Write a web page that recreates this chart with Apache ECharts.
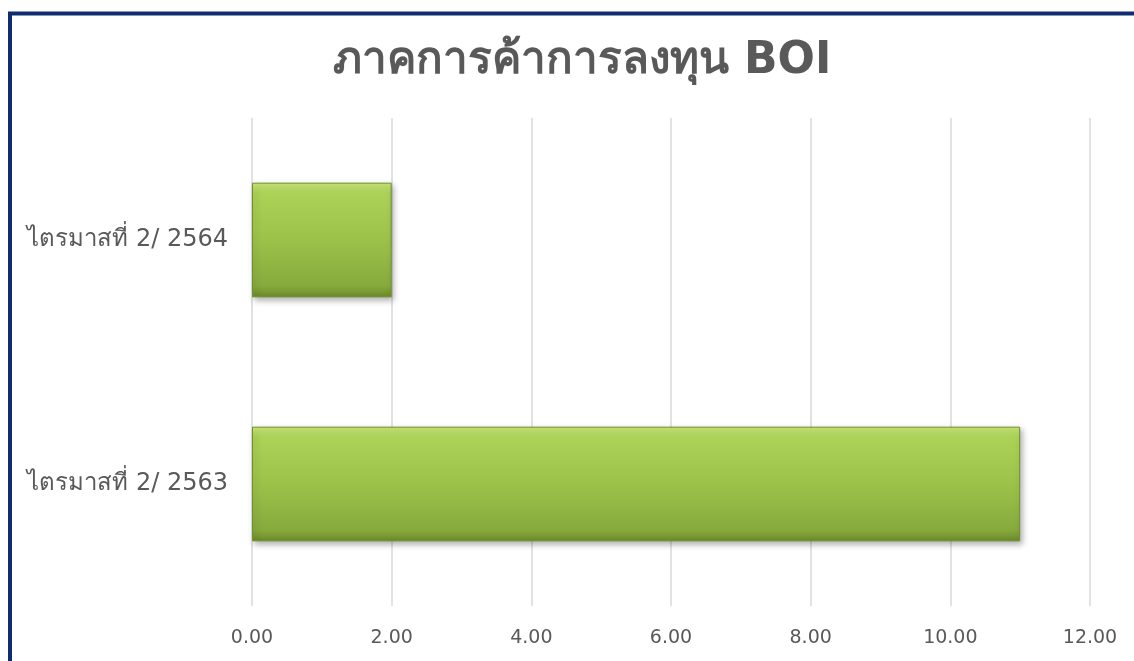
<!DOCTYPE html>
<html><head><meta charset="utf-8">
<script src="https://cdn.jsdelivr.net/npm/echarts@6/dist/echarts.min.js"></script>
<style>html,body{margin:0;padding:0;background:#fff}#c{width:1134px;height:661px}</style>
</head><body><div id="c"></div>
<script>
const titleText = 'ภาคการค้าการลงทุน BOI';
const categories = ['ไตรมาสที่ 2/ 2563', 'ไตรมาสที่ 2/ 2564'];
const values = [11.0, 2.0];
const xTicks = {min: 0, max: 12, interval: 2};

const chart = echarts.init(document.getElementById('c'), null, {renderer: 'canvas'});
chart.setOption({
  backgroundColor: '#ffffff',
  animation: false,
  title: {
    text: titleText, left: 577, textAlign: 'center', top: 35,
    textStyle: {fontFamily: 'Tahoma, "DejaVu Sans", sans-serif', fontSize: 44, fontWeight: 'bold', color: '#595959'}
  },
  graphic: [
    {type: 'line', shape: {x1: 8, y1: 13.5, x2: 1134, y2: 13.5}, style: {stroke: '#0f2c6e', lineWidth: 4}, z: 100},
    {type: 'line', shape: {x1: 10, y1: 12, x2: 10, y2: 661}, style: {stroke: '#0f2c6e', lineWidth: 4}, z: 100}
  ],
  grid: {left: 252, right: 44, top: 118, bottom: 55, containLabel: false},
  xAxis: {
    type: 'value', min: xTicks.min, max: xTicks.max, interval: xTicks.interval,
    axisLine: {show: false}, axisTick: {show: false},
    splitLine: {lineStyle: {color: '#d9d9d9', width: 1.5}},
    axisLabel: {formatter: v => v.toFixed(2), color: '#595959', fontSize: 19, margin: 23, fontFamily: '"DejaVu Sans", sans-serif'}
  },
  yAxis: {
    type: 'category', data: categories,
    axisLine: {show: false}, axisTick: {show: false},
    axisLabel: {color: '#595959', fontSize: 24, margin: 24, fontFamily: 'Tahoma, "DejaVu Sans", sans-serif'}
  },
  series: [{
    type: 'bar', data: values, barCategoryGap: '53%',
    itemStyle: {
      color: {type: 'linear', x: 0, y: 0, x2: 0, y2: 1, colorStops: [
        {offset: 0, color: '#cbe878'},
        {offset: 0.09, color: '#acd258'},
        {offset: 0.5, color: '#9cc24a'},
        {offset: 0.9, color: '#87aa3d'},
        {offset: 1, color: '#6a8a2a'}
      ]},
      borderColor: '#6e8f2c', borderWidth: 1,
      shadowColor: 'rgba(0,0,0,0.3)', shadowBlur: 6, shadowOffsetX: 2, shadowOffsetY: 3
    }
  }]
});
</script></body></html>
